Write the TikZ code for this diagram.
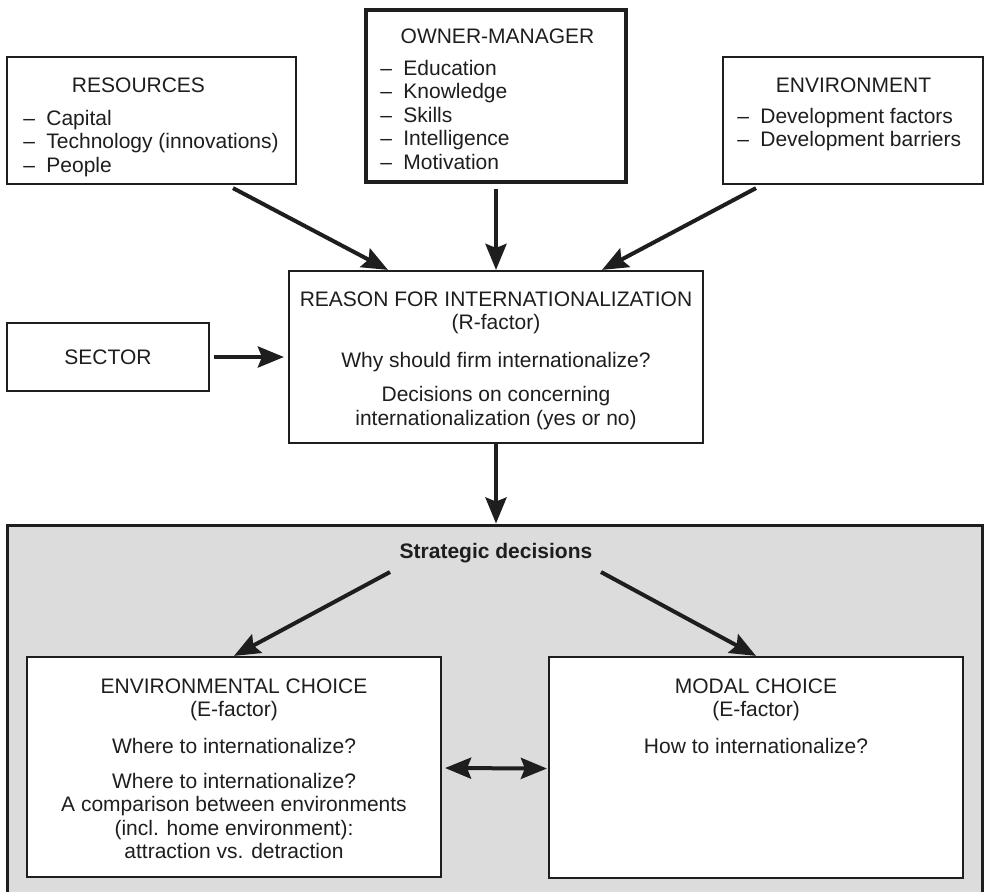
\documentclass[tikz,border=0pt]{standalone}
\usepackage{fontspec}
\setmainfont{Liberation Sans}
\usetikzlibrary{arrows.meta,calc}
\definecolor{ink}{HTML}{1E1E1E}
\definecolor{panelgray}{HTML}{DCDCDC}
% stacked lines: left-aligned list / centred block, baseline on first line
\newcommand\lst[1]{\begin{tabular}[t]{@{}l@{}}#1\end{tabular}}
\newcommand\ctr[1]{\begin{tabular}[t]{@{}c@{}}#1\end{tabular}}
\newcommand\itm[1]{\makebox[11.5pt][l]{–}#1}
\begin{document}
\begin{tikzpicture}[x=0.5pt,y=-0.5pt,
  every node/.style={font=\fontsize{10.5}{11.75}\selectfont, text=ink},
  box/.style={draw=ink, line width=1.1pt, fill=white, rectangle, inner sep=0pt},
  panel/.style={draw=ink, line width=1.5pt, fill=panelgray, rectangle, inner sep=0pt},
  txt/.style={inner sep=0pt, anchor=base},
  lsttxt/.style={inner sep=0pt, anchor=base west},
  >={Stealth[length=13pt,width=10.5pt,inset=2pt]},
  link/.style={draw=ink, line width=2pt, ->},
  bilink/.style={draw=ink, line width=2pt, <->},
]
\useasboundingbox (0,0) rectangle (984,891);

% shaded area for the strategic decisions (runs past the lower edge)
\node[panel, minimum width=487.5pt, minimum height=186pt] (panel) at (494.5,711) {};

% boxes
\node[box, minimum width=144.5pt, minimum height=63.5pt] (res) at (151.5,120.5) {};
\node[box, line width=2pt, minimum width=130.25pt, minimum height=86.25pt] (om) at (496,96) {};
\node[box, minimum width=130pt, minimum height=63.5pt] (env) at (853,120.5) {};
\node[box, minimum width=207pt, minimum height=86pt] (reason) at (496,357) {};
\node[box, minimum width=101pt, minimum height=34pt] (sector) at (108,357) {};
\node[box, minimum width=207pt, minimum height=110pt] (envc) at (234,767) {};
\node[box, minimum width=207pt, minimum height=110.5pt] (modal) at (756,767.5) {};

% box contents
\node[txt] (resT) at (138.5,92) {RESOURCES};
\node[lsttxt] (resL) at (23,125) {\lst{\itm{Capital}\\ \itm{Technology (innovations)}\\ \itm{People}}};

\node[txt] (omT) at (497.5,43) {OWNER-MANAGER};
\node[lsttxt] (omL) at (380,75) {\lst{\itm{Education}\\ \itm{Knowledge}\\ \itm{Skills}\\ \itm{Intelligence}\\ \itm{Motivation}}};

\node[txt] (envT) at (853.5,92) {ENVIRONMENT};
\node[lsttxt] (envL) at (737,123) {\lst{\itm{Development factors}\\ \itm{Development barriers}}};

\node[txt] (reasonT) at (496,306) {\ctr{REASON FOR INTERNATIONALIZATION\\ (R-factor)\\[7pt]
  Why should firm internationalize?\\[5.5pt] Decisions on concerning\\ internationalization (yes or no)}};

\node[txt] (sectorT) at (108,364) {SECTOR};

\node[txt, font=\fontsize{10.5}{11.75}\selectfont\bfseries] (sd) at (496,558) {Strategic decisions};

\node[txt] (envcT) at (234,693) {\ctr{ENVIRONMENTAL CHOICE\\ (E-factor)\\[6.75pt]
  Where to internationalize?\\[5.5pt] Where to internationalize?\\ A comparison between environments\\
  (incl. home environment):\\ attraction vs. detraction}};

\node[txt] (modalT) at (756,693) {\ctr{MODAL CHOICE\\ (E-factor)\\[6.75pt] How to internationalize?}};

% connectors
\draw[link] ($(res.south)+(81.5,3)$) -- ($(reason.north)+(-108,0)$);
\draw[link] ($(om.south)+(0,4.5)$) -- (reason.north);
\draw[link] ($(env.south)+(-97,3)$) -- ($(reason.north)+(106,0)$);
\draw[link] ($(sector.east)+(4,0)$) -- ($(reason.west)+(-4,0)$);
\draw[link] (reason.south) -- (reason.south |- panel.north);
\draw[link] ($(sd.base)+(-106,14)$) -- (envc.north);
\draw[link] ($(sd.base)+(105,14)$) -- (modal.north);
\draw[bilink] ($(envc.east)+(3,1)$) -- ($(modal.west)+(-1,1)$);
\end{tikzpicture}
\end{document}
